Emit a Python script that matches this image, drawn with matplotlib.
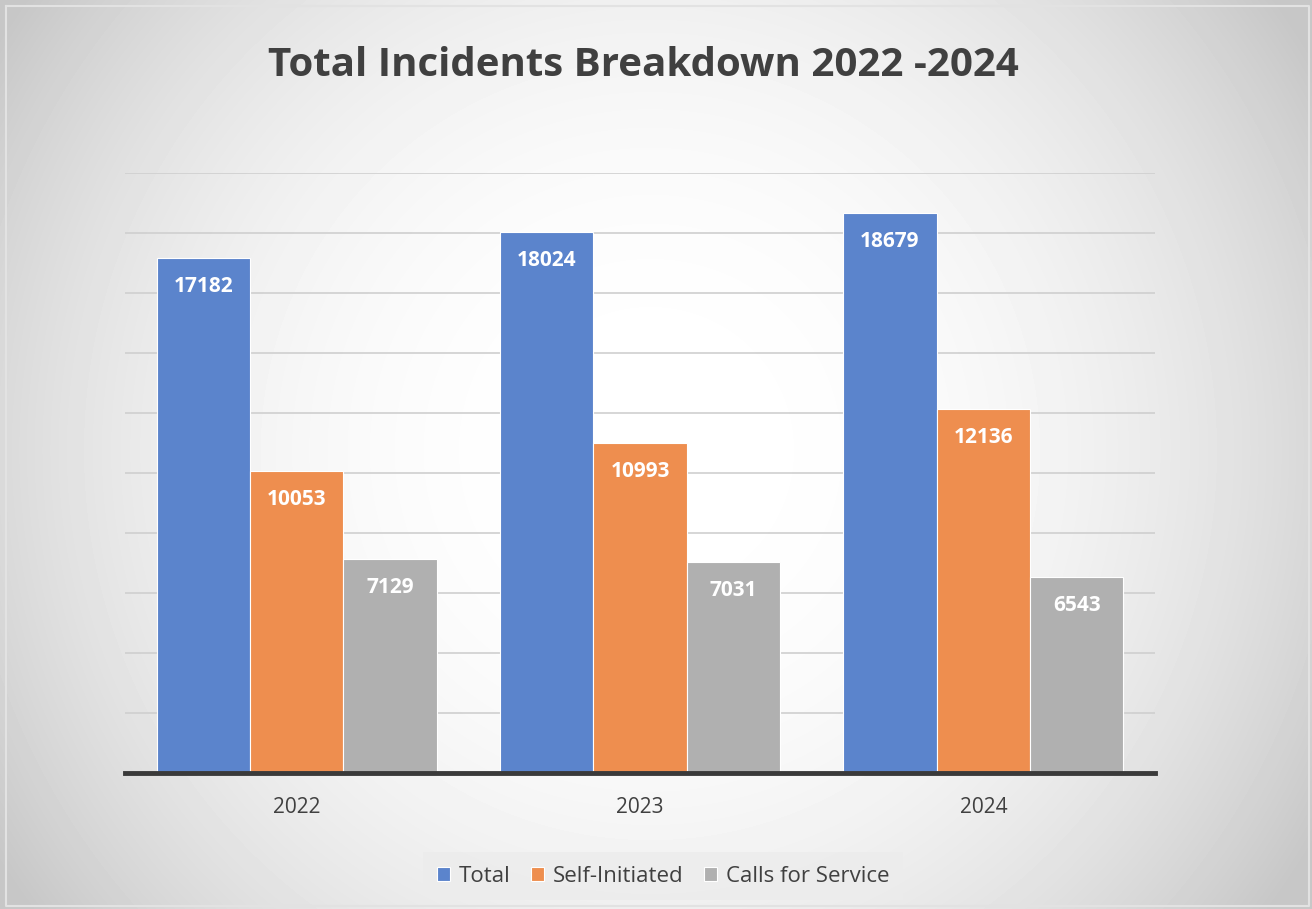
import numpy as np
import matplotlib
matplotlib.use("Agg")
import matplotlib.pyplot as plt

plt.rcParams["font.family"] = ["Open Sans", "DejaVu Sans"]

years = ["2022", "2023", "2024"]
series_names = ["Total", "Self-Initiated", "Calls for Service"]
total = [17182, 18024, 18679]
self_initiated = [10053, 10993, 12136]
calls_for_service = [7129, 7031, 6543]
colors = ["#5b84cc", "#ee8e4f", "#b0b0b0"]

W, H = 1312, 909
fig = plt.figure(figsize=(W / 100, H / 100), dpi=100)

# radial grey background, white in the middle, darker toward the corners
bg = fig.add_axes([0, 0, 1, 1], zorder=-10)
yy, xx = np.mgrid[0:H, 0:W]
r = np.hypot(xx - 650, yy - 450) / 656
shade = np.clip(1.0 - 0.15 * r ** 2.4, 0.78, 1.0)
bg.imshow(shade, cmap="gray", vmin=0, vmax=1, extent=[0, W, H, 0], aspect="auto")
bg.plot([6, W - 3, W - 3, 6, 6], [6, 6, H - 3, H - 3, 6], color="#e2e2e2", lw=1.5)
bg.set_xlim(0, W)
bg.set_ylim(H, 0)
bg.axis("off")

ax = fig.add_axes([125 / W, 1 - 773 / H, 1030 / W, 600 / H])
ax.set_facecolor("none")
ax.set_xlim(-0.5, 2.5)
ax.set_ylim(0, 20000)

x = np.arange(len(years))
width = 0.272
for i, (vals, name) in enumerate(zip([total, self_initiated, calls_for_service], series_names)):
    pos = x + (i - 1) * width
    bars = ax.bar(pos, vals, width, color=colors[i], edgecolor="white", linewidth=0.8,
                  label=name, zorder=3)
    for b, v in zip(bars, vals):
        ax.annotate(str(v), (b.get_x() + b.get_width() / 2, v), xytext=(0, -20.5),
                    textcoords="offset points", ha="center", va="center",
                    color="white", fontsize=15, fontweight="bold", zorder=4)

ax.set_yticks(np.arange(0, 20001, 2000))
ax.yaxis.grid(True, color="#cfcfcf", lw=1.2, zorder=0)
ax.tick_params(axis="y", left=False, labelleft=False)
ax.set_xticks(x)
ax.set_xticklabels(years, fontsize=15, color="#404040")
ax.tick_params(axis="x", length=0, pad=17)
for s in ["top", "right", "left"]:
    ax.spines[s].set_visible(False)
ax.spines["bottom"].set_color("#3a3a3a")
ax.spines["bottom"].set_linewidth(3.5)
ax.spines["bottom"].set_zorder(5)

fig.text(643 / W, 1 - 65 / H, "Total Incidents Breakdown 2022 -2024", ha="center",
         va="center", fontsize=29, fontweight="bold", color="#404040")

leg = ax.legend(loc="center", bbox_to_anchor=(663 / W, 1 - 876 / H),
                bbox_transform=fig.transFigure, ncol=3, frameon=True, fontsize=16,
                handlelength=0.6, handleheight=0.6, handletextpad=0.4, columnspacing=0.9,
                borderpad=0.6, fancybox=False)
leg.get_frame().set_facecolor("#ececec")
leg.get_frame().set_edgecolor("none")
for t in leg.get_texts():
    t.set_color("#404040")

fig.savefig("out.png", dpi=100)
